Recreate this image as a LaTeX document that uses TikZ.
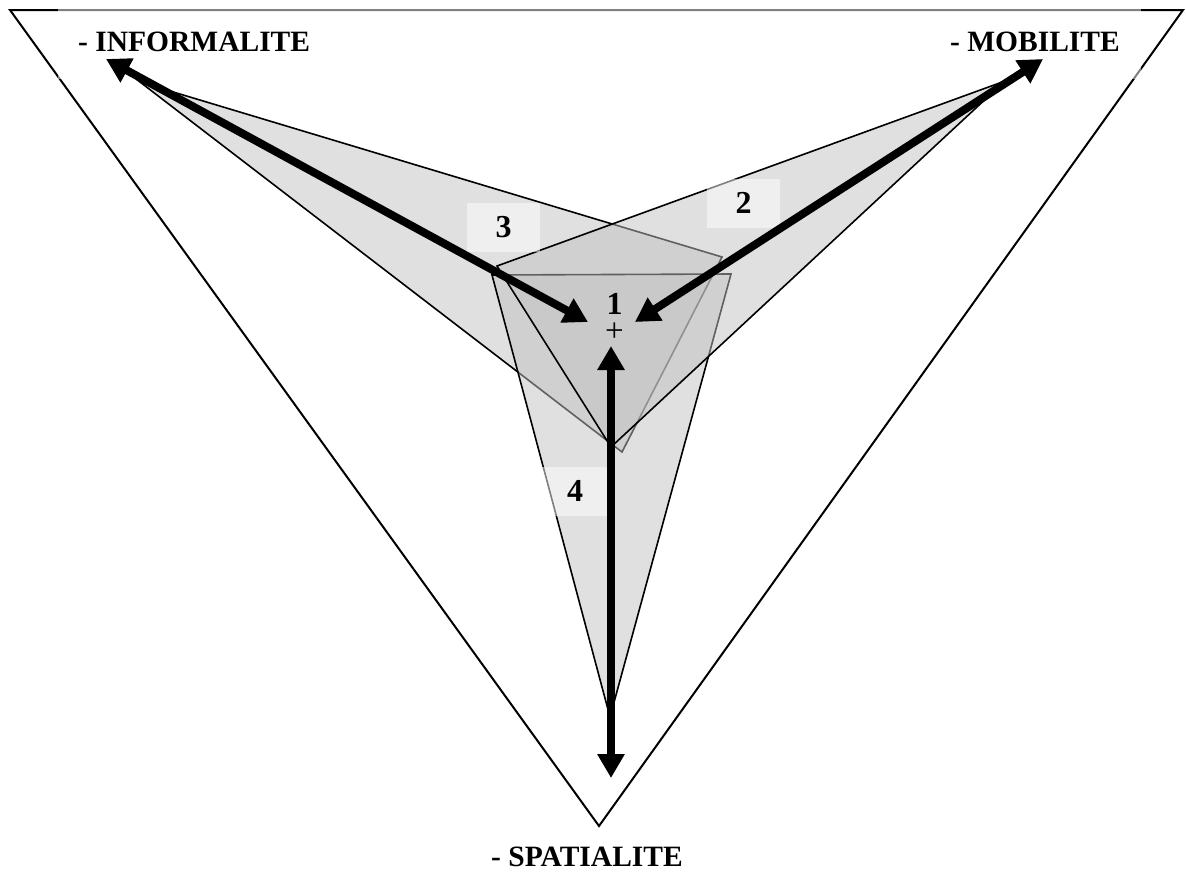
\documentclass[tikz,border=0pt]{standalone}
\usepackage{fontspec}
\setmainfont{Liberation Serif}
\usetikzlibrary{arrows.meta}
\definecolor{shapegray}{RGB}{193,193,193}
\tikzset{
  frame/.style={draw=black, line width=2pt, line join=miter},
  kite/.style={draw=black, line width=1.6pt, fill=shapegray, fill opacity=0.5, line join=miter},
  veil/.style={fill=white, fill opacity=0.5, draw=none, text opacity=1},
  numlabel/.style={veil, minimum width=73pt, minimum height=49pt, inner sep=0pt, font=\fontsize{32}{32}\selectfont\bfseries},
  axislabel/.style={inner sep=0pt, font=\fontsize{29.5}{29.5}\selectfont\bfseries},
  bigarrow/.style={line width=8pt, >={Triangle[length=24pt,width=26pt]}, <->}
}
\begin{document}
\begin{tikzpicture}[x=1pt,y=-1pt]
\useasboundingbox (0,0) rectangle (1186,871);
% outer frame
\coordinate (TL) at (10,10);
\coordinate (TR) at (1183,10);
\coordinate (B) at (599,826);
\draw[frame] (TL) -- (TR) -- (B) -- cycle;
% kite 3 (informalite)
\coordinate (k3a) at (140,82);
\coordinate (k3b) at (722,257);
\coordinate (k3c) at (622,452);
% kite 4 (spatialite)
\coordinate (k4a) at (492,275);
\coordinate (k4b) at (731,274);
\coordinate (k4c) at (610,717);
% kite 2 (mobilite)
\coordinate (k2a) at (1005,81);
\coordinate (k2b) at (497,266);
\coordinate (k2c) at (611,447);
\draw[kite] (k3a) -- (k3b) -- (k3c) -- cycle;
\draw[kite] (k4a) -- (k4b) -- (k4c) -- cycle;
\draw[kite] (k2a) -- (k2b) -- (k2c) -- cycle;
% label veils
\fill[veil] (58,0) rectangle (600,79);
\fill[veil] (600,0) rectangle (1141,79);
% number labels
\node[numlabel] (n3) at (503.5,227.5) {3};
\node[numlabel] (n2) at (743.5,203) {2};
\node[numlabel] (n4) at (575,491) {4};
% centre: "1" above the centre mark "+"
\node[inner sep=0pt, align=center, anchor=base, font=\fontsize{32}{27}\selectfont] (n1) at (614.5,341) {\textbf{1}\\{\fontsize{33}{27}\selectfont +}};
% axis labels
\node[axislabel, anchor=base west] (inf) at (78,51) {- INFORMALITE};
\node[axislabel, anchor=base east] (mob) at (1120,51) {- MOBILITE};
\node[axislabel, anchor=base] (spa) at (587,866) {- SPATIALITE};
% arrows
\coordinate (a3in) at (588,322);
\coordinate (a3out) at (106,59);
\coordinate (a2in) at (635,322);
\coordinate (a2out) at (1043,59);
\coordinate (a4in) at (611,346);
\coordinate (a4out) at (611,778);
\draw[bigarrow] (a3in) -- (a3out);
\draw[bigarrow] (a2in) -- (a2out);
\draw[bigarrow] (a4in) -- (a4out);
\end{tikzpicture}
\end{document}
